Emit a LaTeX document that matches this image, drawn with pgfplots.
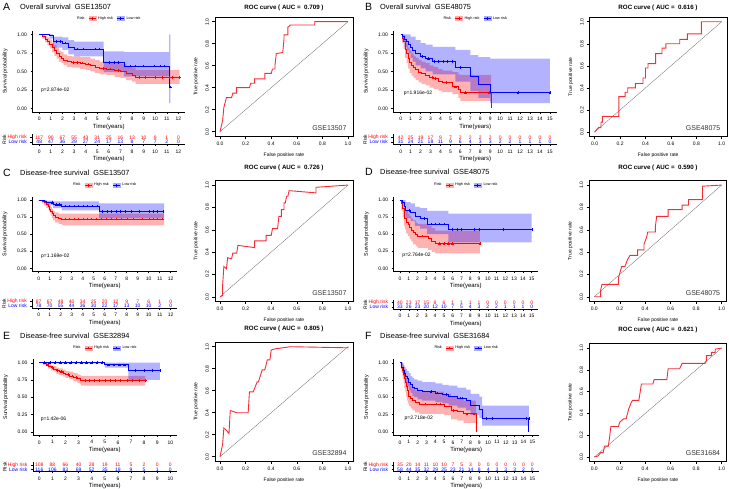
\documentclass[border=0pt]{standalone}
\usepackage{pgfplots}
\pgfplotsset{compat=1.18}
\usepackage{fontspec}
\setmainfont{Liberation Sans}
\newcommand\fs[1]{\fontsize{#1}{#1}\selectfont}
\definecolor{hi}{RGB}{255,0,0}
\definecolor{lo}{RGB}{0,0,255}
\definecolor{rocred}{RGB}{245,45,55}

\pgfplotsset{
  base/.style={scale only axis, anchor=south west,
    axis line style={black, line width=0.45pt},
    every tick/.style={black, line width=0.45pt},
    tick align=outside, major tick length=1.8pt,
    ticklabel style={font=\fs{5}},
    /pgf/number format/assume math mode=true},
  km/.style={base, axis x line*=bottom, axis y line*=left,
    ymin=-0.05, ymax=1.05, ytick={0,0.25,0.5,0.75,1},
    yticklabels={0.00,0.25,0.50,0.75,1.00}, xtick distance=1,
    xlabel={Time(years)}, ylabel={Survival probability},
    xlabel style={font=\fs{6}, yshift=4pt},
    ylabel style={font=\fs{5.3}, at={(axis description cs:0,0.5)}, anchor=center, yshift=27pt},
    legend style={draw=none, fill=none, font=\fs{3.8}, at={(0.5,1.15)},
      anchor=center, inner sep=0pt, /tikz/every even column/.append style={column sep=2pt}},
    legend columns=3},
  risk/.style={base, axis x line*=bottom, axis y line*=left,
    ymin=0.5, ymax=2.6, ytick={1,2}, xtick distance=1,
    yticklabels={{\color{lo}Low risk},{\color{hi}High risk}},
    xlabel={Time(years)}, ylabel={Risk},
    xlabel style={font=\fs{6}, yshift=4pt},
    ylabel style={font=\fs{5}, at={(axis description cs:0,0.5)}, anchor=center, yshift=28pt}},
  roc/.style={base, xmin=-0.04, xmax=1.04, ymin=-0.04, ymax=1.04,
    xtick={0,0.2,0.4,0.6,0.8,1}, ytick={0,0.2,0.4,0.6,0.8,1},
    xticklabels={0.0,0.2,0.4,0.6,0.8,1.0}, yticklabels={0.0,0.2,0.4,0.6,0.8,1.0},
    tick pos=left, major tick length=2.5pt,
    axis line style={black, line width=0.5pt},
    yticklabel style={rotate=90, anchor=south},
    xlabel={False positive rate}, ylabel={True positive rate},
    label style={font=\fs{5}}},
  hikey/.style={legend image code/.code={
    \fill[hi!32] (0pt,-2.2pt) rectangle (7pt,2.2pt);
    \draw[hi, line width=0.6pt] (0pt,0pt) -- (7pt,0pt) (3.5pt,-1.3pt) -- (3.5pt,1.3pt);}},
  lokey/.style={legend image code/.code={
    \fill[lo!32] (0pt,-2.2pt) rectangle (7pt,2.2pt);
    \draw[lo, line width=0.6pt] (0pt,0pt) -- (7pt,0pt) (3.5pt,-1.3pt) -- (3.5pt,1.3pt);}},
  band/.style={const plot, draw=none, fill=#1, fill opacity=0.3, forget plot},
  curve/.style={#1, const plot, line width=0.7pt, forget plot},
  cens/.style={#1, only marks, mark=+, mark size=1.3pt, forget plot},
  nums/.style={draw=none, forget plot, nodes near coords, point meta=explicit symbolic,
    nodes near coords style={anchor=center, font=\fs{5}, text=#1, inner sep=0pt}},
  roccurve/.style={rocred, line width=0.9pt},
  diag/.style={black!60, line width=0.3pt},
}
\tikzset{
  gse/.style={anchor=south east, font=\fs{7}, text=black!80, inner sep=0pt, xshift=-6.4pt, yshift=5.5pt},
  letter/.style={anchor=west, font=\fs{10.5}, inner sep=0pt},
  ttl/.style={anchor=west, font=\fs{7.4}, inner sep=0pt},
  roct/.style={anchor=center, font=\bfseries\fs{6.2}, inner sep=0pt},
  pv/.style={anchor=west, font=\fs{5}, inner sep=0pt}
}

\begin{document}
\begin{tikzpicture}
\useasboundingbox (0,0) rectangle (729pt,488pt);

% ---------- titles ----------
\node[letter] at (3pt,481pt) {A};
\node[ttl] at (20pt,481.5pt) {Overall survival\ \ GSE13507};
\node[letter] at (365pt,481pt) {B};
\node[ttl] at (380pt,481.5pt) {Overall survival\ \ GSE48075};
\node[letter] at (3pt,315pt) {C};
\node[ttl] at (20pt,315.5pt) {Disease-free survival\ \ GSE13507};
\node[letter] at (365pt,316pt) {D};
\node[ttl] at (380pt,316.5pt) {Disease-free survival\ \ GSE48075};
\node[letter] at (3pt,152pt) {E};
\node[ttl] at (20pt,152.5pt) {Disease-free survival\ \ GSE32894};
\node[letter] at (365pt,152pt) {F};
\node[ttl] at (380pt,152.5pt) {Disease-free survival\ \ GSE31684};
\node[roct] at (284pt,480pt) {ROC curve ( AUC =\ \ 0.709 )};
\node[roct] at (658pt,480pt) {ROC curve ( AUC =\ \ 0.616 )};
\node[roct] at (284pt,320pt) {ROC curve ( AUC =\ \ 0.726 )};
\node[roct] at (658pt,320pt) {ROC curve ( AUC =\ \ 0.590 )};
\node[roct] at (284pt,159pt) {ROC curve ( AUC =\ \ 0.805 )};
\node[roct] at (658pt,158pt) {ROC curve ( AUC =\ \ 0.621 )};

% ================= A =================
\begin{axis}[km, at={(32.3pt,376pt)}, width=153.1pt, height=81.4pt, xmin=-0.6, xmax=12.6]
\addlegendimage{empty legend}\addlegendentry{Risk}
\addlegendimage{hikey}\addlegendentry{High risk}
\addlegendimage{lokey}\addlegendentry{Low risk}
\addplot[band=hi] coordinates {(0,1)(0.3,1)(0.5,0.98)(0.7,0.96)(0.9,0.93)(1.1,0.89)(1.3,0.85)(1.5,0.82)(1.7,0.78)(1.9,0.76)(2.1,0.73)(2.4,0.71)(2.8,0.70)(3.5,0.69)(4.0,0.69)(4.4,0.67)(4.8,0.65)(5.2,0.63)(5.8,0.62)(6.5,0.61)(7.0,0.60)(7.5,0.57)(8.0,0.55)(8.3,0.52)(12.1,0.52)
 (12.1,0.33)(8.3,0.36)(8.0,0.38)(7.5,0.41)(7.0,0.42)(6.5,0.45)(5.8,0.46)(5.2,0.48)(4.8,0.50)(4.4,0.52)(4.0,0.53)(3.5,0.55)(2.8,0.56)(2.4,0.58)(2.1,0.61)(1.9,0.63)(1.7,0.67)(1.5,0.71)(1.3,0.76)(1.1,0.81)(0.9,0.85)(0.7,0.89)(0.5,0.94)(0.3,1)(0,1)} -- cycle;
\addplot[band=lo] coordinates {(0,1)(0.9,1)(1.2,0.97)(2.0,0.96)(2.5,0.92)(3.0,0.90)(5.55,0.77)(7.3,0.76)(11.2,1.0)(11.3,1.0)
 (11.3,0.07)(11.2,0.43)(7.3,0.49)(5.55,0.70)(3.0,0.73)(2.5,0.79)(2.0,0.82)(1.2,0.94)(0.9,1)(0,1)} -- cycle;
\addplot[curve=hi] coordinates {(0,1)(0.3,0.97)(0.5,0.93)(0.7,0.90)(0.9,0.87)(1.1,0.82)(1.3,0.78)(1.5,0.74)(1.7,0.70)(1.9,0.68)(2.1,0.65)(2.4,0.63)(2.8,0.62)(3.5,0.61)(4.0,0.60)(4.4,0.58)(4.8,0.56)(5.2,0.54)(5.8,0.53)(6.5,0.51)(7.0,0.50)(7.5,0.47)(8.0,0.45)(8.3,0.42)(12.1,0.42)};
\addplot[curve=lo] coordinates {(0,1)(0.9,0.98)(1.2,0.90)(2.0,0.88)(2.5,0.83)(3.0,0.80)(5.55,0.62)(7.3,0.57)(11.2,0.29)(11.3,0.29)};
\addplot[cens=hi] coordinates {(2.9,0.62)(3.3,0.62)(3.7,0.61)(4.2,0.60)(5.5,0.54)(6.1,0.53)(6.8,0.51)(8.6,0.42)(9.1,0.42)(10.0,0.42)(10.6,0.42)(11.2,0.42)(11.5,0.42)(12.1,0.42)};
\addplot[cens=lo] coordinates {(1.5,0.90)(1.8,0.90)(2.2,0.88)(3.3,0.80)(3.8,0.80)(4.8,0.80)(5.2,0.80)(6.0,0.62)(6.5,0.62)(6.8,0.62)(7.8,0.57)(8.3,0.57)(9.0,0.57)(9.9,0.57)(10.4,0.57)(10.8,0.57)(11.3,0.29)};
\node[pv] at (axis cs:0.15,0.25) {p=2.874e-02};
\end{axis}
\begin{axis}[risk, at={(32.3pt,343.6pt)}, width=153.1pt, height=9.9pt, xmin=-0.6, xmax=12.6]
\addplot[nums=hi] coordinates {(0,2)[117](1,2)[90](2,2)[67](3,2)[55](4,2)[43](5,2)[31](6,2)[25](7,2)[16](8,2)[13](9,2)[10](10,2)[9](11,2)[1](12,2)[0]};
\addplot[nums=lo] coordinates {(0,1)[48](1,1)[47](2,1)[36](3,1)[29](4,1)[27](5,1)[24](6,1)[17](7,1)[13](8,1)[8](9,1)[7](10,1)[7](11,1)[2](12,1)[0]};
\end{axis}
\begin{axis}[roc, at={(214.9pt,351.9pt)}, width=138.2pt, height=118.8pt]
\addplot[diag] coordinates {(0,0)(1,1)};
\addplot[roccurve] coordinates {(0,0)(0.01,0.05)(0.02,0.10)(0.03,0.22)(0.05,0.31)(0.09,0.31)(0.10,0.35)(0.13,0.35)(0.13,0.40)(0.23,0.40)(0.24,0.44)(0.27,0.44)(0.27,0.48)(0.35,0.48)(0.35,0.53)(0.40,0.53)(0.41,0.57)(0.43,0.57)(0.43,0.61)(0.44,0.71)(0.49,0.72)(0.50,0.84)(0.50,0.88)(0.53,0.88)(0.53,0.95)(0.55,0.97)(0.74,0.97)(0.74,1.0)(1,1)};
\node[gse] at (rel axis cs:1,0) {GSE13507};
\end{axis}

% ================= B =================
\begin{axis}[km, at={(393.2pt,376pt)}, width=164.2pt, height=81.4pt, xmin=-0.75, xmax=15.75]
\addlegendimage{empty legend}\addlegendentry{Risk}
\addlegendimage{hikey}\addlegendentry{High risk}
\addlegendimage{lokey}\addlegendentry{Low risk}
\addplot[band=hi] coordinates {(0,1)(0.15,1)(0.3,0.99)(0.45,0.93)(0.6,0.88)(0.75,0.82)(0.9,0.78)(1.1,0.74)(1.3,0.71)(1.5,0.68)(1.8,0.65)(2.1,0.63)(2.5,0.61)(2.9,0.58)(3.3,0.56)(3.8,0.53)(4.2,0.51)(5.2,0.49)(5.8,0.46)(6.0,0.45)(9.1,0.45)
 (9.1,0.10)(6.0,0.14)(5.8,0.19)(5.2,0.22)(4.2,0.24)(3.8,0.26)(3.3,0.28)(2.9,0.31)(2.5,0.33)(2.1,0.35)(1.8,0.38)(1.5,0.41)(1.3,0.44)(1.1,0.48)(0.9,0.54)(0.75,0.61)(0.6,0.68)(0.45,0.80)(0.3,0.88)(0.15,1)(0,1)} -- cycle;
\addplot[band=lo] coordinates {(0,1)(1.0,0.97)(1.5,0.92)(2.0,0.88)(2.5,0.86)(3.2,0.83)(5.5,0.79)(7.0,0.72)(7.8,0.69)(9.0,0.67)(15,0.67)
 (15,0.07)(9.0,0.14)(7.8,0.23)(7.0,0.36)(5.5,0.46)(3.2,0.50)(2.5,0.54)(2.0,0.58)(1.5,0.63)(1.2,0.68)(1.0,0.74)(0.8,0.78)(0.6,0.83)(0.4,0.90)(0.2,1)(0,1)} -- cycle;
\addplot[curve=hi] coordinates {(0,1)(0.15,0.95)(0.3,0.90)(0.45,0.80)(0.6,0.74)(0.75,0.67)(0.9,0.62)(1.1,0.58)(1.3,0.55)(1.5,0.52)(1.8,0.49)(2.1,0.47)(2.5,0.45)(2.9,0.42)(3.3,0.40)(3.8,0.37)(4.2,0.35)(5.2,0.29)(5.8,0.25)(6.0,0.21)(9.1,0.0)};
\addplot[curve=lo] coordinates {(0,1)(0.2,0.97)(0.4,0.93)(0.6,0.90)(0.8,0.87)(1.0,0.82)(1.2,0.78)(1.5,0.74)(2.0,0.70)(2.5,0.67)(3.2,0.63)(5.5,0.55)(7.0,0.43)(7.8,0.32)(9.0,0.21)(15,0.21)};
\addplot[cens=hi] coordinates {(3.2,0.42)(3.5,0.40)(4.6,0.35)(5.5,0.29)(6.5,0.21)(8.9,0.21)};
\addplot[cens=lo] coordinates {(2.2,0.70)(2.8,0.67)(3.4,0.63)(3.8,0.63)(4.3,0.63)(4.7,0.63)(5.2,0.63)(6.0,0.55)(11.8,0.21)(15,0.21)};
\node[pv] at (axis cs:0.3,0.2) {p=1.916e-02};
\end{axis}
\begin{axis}[risk, at={(393.2pt,343.6pt)}, width=164.2pt, height=9.9pt, xmin=-0.75, xmax=15.75]
\addplot[nums=hi] coordinates {(0,2)[42](1,2)[25](2,2)[19](3,2)[17](4,2)[9](5,2)[7](6,2)[2](7,2)[2](8,2)[2](9,2)[2](10,2)[0](11,2)[0](12,2)[0](13,2)[0](14,2)[0](15,2)[0]};
\addplot[nums=lo] coordinates {(0,1)[31](1,1)[24](2,1)[21](3,1)[18](4,1)[11](5,1)[9](6,1)[6](7,1)[4](8,1)[3](9,1)[3](10,1)[2](11,1)[2](12,1)[1](13,1)[1](14,1)[1](15,1)[0]};
\end{axis}
\begin{axis}[roc, at={(589.6pt,351.6pt)}, width=137.2pt, height=119.1pt]
\addplot[diag] coordinates {(0,0)(1,1)};
\addplot[roccurve] coordinates {(0,0)(0.03,0.04)(0.05,0.04)(0.05,0.09)(0.06,0.09)(0.06,0.14)(0.19,0.14)(0.19,0.32)(0.24,0.32)(0.24,0.36)(0.26,0.36)(0.26,0.40)(0.32,0.40)(0.32,0.44)(0.38,0.44)(0.38,0.49)(0.40,0.49)(0.40,0.58)(0.42,0.58)(0.42,0.62)(0.48,0.62)(0.48,0.71)(0.53,0.71)(0.53,0.76)(0.56,0.76)(0.56,0.80)(0.67,0.80)(0.67,0.84)(0.73,0.84)(0.73,0.89)(0.84,0.89)(0.84,1.0)(1,1)};
\node[gse] at (rel axis cs:1,0) {GSE48075};
\end{axis}

% ================= C =================
\begin{axis}[km, at={(32.1pt,216.3pt)}, width=145.2pt, height=75.1pt, xmin=-0.6, xmax=12.6]
\addlegendimage{empty legend}\addlegendentry{Risk}
\addlegendimage{hikey}\addlegendentry{High risk}
\addlegendimage{lokey}\addlegendentry{Low risk}
\addplot[band=hi] coordinates {(0,1)(0.3,1)(0.5,0.99)(0.7,0.97)(0.9,0.95)(1.0,0.92)(1.1,0.90)(1.2,0.87)(1.3,0.84)(1.5,0.82)(1.8,0.80)(2.1,0.80)(11.4,0.80)
 (11.4,0.63)(2.1,0.65)(1.8,0.67)(1.5,0.70)(1.3,0.74)(1.2,0.77)(1.1,0.81)(1.0,0.84)(0.9,0.88)(0.7,0.92)(0.5,0.95)(0.3,1)(0,1)} -- cycle;
\addplot[band=lo] coordinates {(0,1)(0.5,1)(0.7,0.99)(1.3,0.98)(2.1,0.98)(5.5,0.95)(11.4,0.95)
 (11.4,0.73)(5.5,0.85)(2.1,0.88)(1.3,0.92)(0.7,0.95)(0.5,1)(0,1)} -- cycle;
\addplot[curve=hi] coordinates {(0,1)(0.3,0.98)(0.5,0.96)(0.7,0.93)(0.9,0.90)(1.0,0.87)(1.1,0.84)(1.2,0.81)(1.3,0.78)(1.5,0.75)(1.8,0.73)(2.1,0.72)(11.4,0.72)};
\addplot[curve=lo] coordinates {(0,1)(0.5,0.98)(0.7,0.96)(1.3,0.93)(2.1,0.91)(5.5,0.83)(11.4,0.83)};
\addplot[cens=hi] coordinates {(2.4,0.72)(2.8,0.72)(3.2,0.72)(3.6,0.72)(4.0,0.72)(4.4,0.72)(4.8,0.72)(5.2,0.72)(5.7,0.72)(6.1,0.72)(6.6,0.72)(7.0,0.72)(7.5,0.72)(8.0,0.72)(8.6,0.72)(9.4,0.72)(10.0,0.72)(10.4,0.72)(10.8,0.72)(11.2,0.72)};
\addplot[cens=lo] coordinates {(1.2,0.96)(1.6,0.93)(1.9,0.93)(2.4,0.91)(2.8,0.91)(3.2,0.91)(3.6,0.91)(4.0,0.91)(4.4,0.91)(4.9,0.91)(5.3,0.91)(5.8,0.83)(6.2,0.83)(6.6,0.83)(7.0,0.83)(7.4,0.83)(7.9,0.83)(8.4,0.83)(9.1,0.83)(10.0,0.83)(10.4,0.83)(10.8,0.83)(11.3,0.83)};
\node[pv] at (axis cs:0.2,0.18) {p=1.169e-02};
\end{axis}
\begin{axis}[risk, at={(32.1pt,179.9pt)}, width=145.2pt, height=9pt, xmin=-0.6, xmax=12.6]
\addplot[nums=hi] coordinates {(0,2)[87](1,2)[67](2,2)[48](3,2)[40](4,2)[34](5,2)[25](6,2)[20](7,2)[12](8,2)[9](9,2)[7](10,2)[6](11,2)[1](12,2)[0]};
\addplot[nums=lo] coordinates {(0,1)[78](1,1)[70](2,1)[55](3,1)[44](4,1)[36](5,1)[30](6,1)[22](7,1)[17](8,1)[13](9,1)[10](10,1)[10](11,1)[2](12,1)[0]};
\end{axis}
\begin{axis}[roc, at={(214.9pt,186.8pt)}, width=138.2pt, height=120.6pt]
\addplot[diag] coordinates {(0,0)(1,1)};
\addplot[roccurve] coordinates {(0,0)(0.02,0.01)(0.02,0.10)(0.03,0.27)(0.05,0.25)(0.06,0.35)(0.09,0.34)(0.10,0.39)(0.13,0.39)(0.14,0.46)(0.27,0.44)(0.27,0.50)(0.36,0.50)(0.36,0.55)(0.40,0.55)(0.41,0.61)(0.45,0.61)(0.46,0.72)(0.48,0.72)(0.48,0.78)(0.50,0.78)(0.50,0.84)(0.51,0.84)(0.52,0.90)(0.53,0.90)(0.54,0.95)(0.75,0.93)(0.75,0.98)(1,1)};
\node[gse] at (rel axis cs:1,0) {GSE13507};
\end{axis}

% ================= D =================
\begin{axis}[km, at={(393.4pt,216.3pt)}, width=144.9pt, height=75.1pt, xmin=-0.75, xmax=15.75]
\addlegendimage{empty legend}\addlegendentry{Risk}
\addlegendimage{hikey}\addlegendentry{High risk}
\addlegendimage{lokey}\addlegendentry{Low risk}
\addplot[band=hi] coordinates {(0,1)(0.15,1)(0.3,0.98)(0.45,0.92)(0.55,0.88)(0.7,0.84)(0.9,0.80)(1.1,0.77)(1.3,0.73)(1.5,0.70)(1.8,0.67)(2.0,0.65)(3.2,0.62)(3.6,0.59)(4.0,0.55)(9.1,0.55)
 (9.1,0.22)(4.0,0.24)(3.6,0.27)(3.2,0.30)(2.0,0.32)(1.8,0.35)(1.5,0.39)(1.3,0.43)(1.1,0.47)(0.9,0.51)(0.7,0.57)(0.55,0.62)(0.45,0.75)(0.3,0.85)(0.15,1)(0,1)} -- cycle;
\addplot[band=lo] coordinates {(0,1)(0.65,0.97)(1.2,0.95)(1.7,0.90)(2.3,0.88)(3.1,0.84)(5.5,0.80)(15,0.80)
 (15,0.38)(5.5,0.50)(3.1,0.58)(2.3,0.62)(1.7,0.69)(1.2,0.73)(0.65,0.81)(0.5,0.91)(0.3,1)(0,1)} -- cycle;
\addplot[curve=hi] coordinates {(0,1)(0.15,0.95)(0.3,0.88)(0.45,0.78)(0.55,0.73)(0.7,0.68)(0.9,0.64)(1.1,0.60)(1.3,0.56)(1.5,0.52)(1.8,0.49)(2.0,0.47)(3.2,0.44)(3.6,0.40)(4.0,0.36)(9.1,0.36)};
\addplot[curve=lo] coordinates {(0,1)(0.3,0.97)(0.5,0.91)(0.65,0.85)(1.2,0.82)(1.7,0.76)(2.3,0.73)(3.1,0.65)(5.5,0.57)(15,0.57)};
\addplot[cens=hi] coordinates {(2.5,0.47)(4.5,0.36)(5.0,0.36)(5.5,0.36)(6.0,0.36)(9.1,0.36)};
\addplot[cens=lo] coordinates {(1.0,0.85)(2.7,0.73)(3.5,0.65)(4.0,0.65)(4.5,0.65)(5.0,0.65)(6.0,0.57)(6.5,0.57)(7.0,0.57)(8.5,0.57)(9.0,0.57)(11.8,0.57)(15,0.57)};
\node[pv] at (axis cs:0.26,0.19) {p=2.764e-02};
\end{axis}
\begin{axis}[risk, at={(393.4pt,178.9pt)}, width=144.9pt, height=9pt, xmin=-0.75, xmax=15.75]
\addplot[nums=hi] coordinates {(0,2)[40](1,2)[23](2,2)[17](3,2)[15](4,2)[8](5,2)[6](6,2)[1](7,2)[1](8,2)[1](9,2)[1](10,2)[0](11,2)[0](12,2)[0](13,2)[0](14,2)[0](15,2)[0]};
\addplot[nums=lo] coordinates {(0,1)[33](1,1)[26](2,1)[23](3,1)[20](4,1)[12](5,1)[10](6,1)[7](7,1)[5](8,1)[4](9,1)[3](10,1)[2](11,1)[2](12,1)[1](13,1)[1](14,1)[1](15,1)[0]};
\end{axis}
\begin{axis}[roc, at={(589.2pt,186.8pt)}, width=137.5pt, height=120.6pt]
\addplot[diag] coordinates {(0,0)(1,1)};
\addplot[roccurve] coordinates {(0,0)(0.03,0)(0.05,0)(0.05,0.06)(0.06,0.11)(0.19,0.11)(0.19,0.17)(0.20,0.21)(0.215,0.27)(0.24,0.27)(0.26,0.33)(0.28,0.37)(0.34,0.37)(0.34,0.42)(0.39,0.42)(0.39,0.47)(0.41,0.53)(0.42,0.58)(0.48,0.58)(0.48,0.63)(0.49,0.72)(0.58,0.72)(0.58,0.78)(0.69,0.78)(0.69,0.82)(0.74,0.82)(0.74,0.87)(0.85,0.87)(0.85,0.99)(1,1)};
\node[gse] at (rel axis cs:1,0) {GSE48075};
\end{axis}

% ================= E =================
\begin{axis}[km, at={(32.75pt,52.8pt)}, width=144.1pt, height=75.9pt, xmin=-0.5, xmax=10.5]
\addlegendimage{empty legend}\addlegendentry{Risk}
\addlegendimage{hikey}\addlegendentry{High risk}
\addlegendimage{lokey}\addlegendentry{Low risk}
\addplot[band=hi] coordinates {(0,1)(0.3,1)(0.5,0.99)(0.7,0.98)(0.9,0.96)(1.1,0.95)(1.3,0.93)(1.5,0.92)(1.8,0.90)(2.0,0.88)(2.3,0.87)(2.6,0.85)(2.9,0.83)(3.1,0.82)(3.2,0.81)(8.1,0.81)
 (8.1,0.67)(3.2,0.69)(3.1,0.71)(2.9,0.73)(2.6,0.76)(2.3,0.78)(2.0,0.80)(1.8,0.82)(1.5,0.84)(1.3,0.87)(1.1,0.89)(0.9,0.92)(0.7,0.95)(0.5,0.97)(0.3,1)(0,1)} -- cycle;
\addplot[band=lo] coordinates {(0,1)(9.2,1)
 (9.2,0.75)(6.8,0.93)(5.0,0.99)(0.5,1)(0,1)} -- cycle;
\addplot[curve=hi] coordinates {(0,1)(0.3,0.99)(0.5,0.97)(0.7,0.95)(0.9,0.93)(1.1,0.91)(1.3,0.89)(1.5,0.87)(1.8,0.85)(2.0,0.83)(2.3,0.81)(2.6,0.79)(2.9,0.77)(3.1,0.75)(3.2,0.74)(8.1,0.74)};
\addplot[curve=lo] coordinates {(0,1)(5.0,0.97)(6.8,0.89)(9.2,0.89)};
\addplot[cens=hi] coordinates {(0.6,0.97)(1.0,0.93)(1.4,0.89)(1.7,0.87)(2.2,0.83)(2.5,0.81)(2.8,0.79)(3.5,0.74)(3.8,0.74)(4.2,0.74)(4.6,0.74)(5.0,0.74)(5.4,0.74)(5.8,0.74)(6.2,0.74)(6.7,0.74)(7.1,0.74)(7.6,0.74)(8.1,0.74)};
\addplot[cens=lo] coordinates {(0.4,1)(0.8,1)(1.2,1)(1.6,1)(2.0,1)(2.4,1)(2.8,1)(3.2,1)(3.6,1)(4.0,1)(4.4,1)(4.8,1)(5.3,0.97)(5.7,0.97)(6.1,0.97)(6.5,0.97)(7.3,0.89)(8.0,0.89)(8.6,0.89)(9.2,0.89)};
\node[pv] at (axis cs:0.1,0.18) {p=1.42e-06};
\end{axis}
\begin{axis}[risk, at={(32.75pt,16.4pt)}, width=144.1pt, height=9.6pt, xmin=-0.5, xmax=10.5]
\addplot[nums=hi] coordinates {(0,2)[108](1,2)[88](2,2)[66](3,2)[40](4,2)[28](5,2)[19](6,2)[11](7,2)[5](8,2)[2](9,2)[0](10,2)[0]};
\addplot[nums=lo] coordinates {(0,1)[116](1,1)[106](2,1)[83](3,1)[69](4,1)[52](5,1)[35](6,1)[19](7,1)[9](8,1)[5](9,1)[1](10,1)[0]};
\end{axis}
\begin{axis}[roc, at={(214.9pt,26.9pt)}, width=138.2pt, height=118.8pt]
\addplot[diag] coordinates {(0,0)(1,1)};
\addplot[roccurve] coordinates {(0,0)(0.02,0.11)(0.03,0.26)(0.05,0.24)(0.07,0.21)(0.08,0.42)(0.13,0.40)(0.22,0.40)(0.23,0.59)(0.26,0.59)(0.29,0.68)(0.30,0.68)(0.33,0.79)(0.35,0.79)(0.37,0.88)(0.39,0.88)(0.40,0.97)(0.43,0.98)(0.55,1.0)(1,0.99)(1,1)};
\node[gse] at (rel axis cs:1,0) {GSE32894};
\end{axis}

% ================= F =================
\begin{axis}[km, at={(393.4pt,52.8pt)}, width=145.5pt, height=75.9pt, xmin=-0.75, xmax=15.75]
\addlegendimage{empty legend}\addlegendentry{Risk}
\addlegendimage{hikey}\addlegendentry{High risk}
\addlegendimage{lokey}\addlegendentry{Low risk}
\addplot[band=hi] coordinates {(0,1)(0.3,0.99)(0.4,0.95)(0.5,0.91)(0.6,0.86)(0.7,0.82)(0.8,0.77)(0.9,0.73)(1.0,0.70)(1.2,0.66)(1.4,0.63)(1.7,0.60)(2.2,0.58)(5.0,0.55)(5.8,0.50)(6.5,0.48)(7.2,0.45)(8.6,0.45)
 (8.6,0.13)(7.2,0.16)(6.5,0.18)(5.8,0.24)(5.0,0.26)(2.2,0.28)(1.7,0.31)(1.4,0.34)(1.2,0.37)(1.0,0.41)(0.9,0.45)(0.8,0.51)(0.7,0.57)(0.6,0.63)(0.5,0.70)(0.4,0.77)(0.3,0.85)(0.2,0.91)(0.1,1)(0,1)} -- cycle;
\addplot[band=lo] coordinates {(0,1)(0.35,0.97)(0.5,0.94)(0.65,0.91)(0.8,0.88)(1.0,0.85)(1.2,0.81)(1.4,0.78)(1.6,0.76)(2.0,0.74)(2.5,0.72)(4.0,0.70)(4.8,0.68)(5.5,0.67)(6.5,0.64)(7.5,0.61)(8.0,0.55)(9.0,0.51)(9.3,0.38)(14.6,0.38)
 (14.6,0.09)(9.3,0.20)(9.0,0.24)(8.0,0.31)(7.5,0.35)(6.5,0.38)(5.5,0.41)(4.8,0.43)(4.0,0.45)(2.5,0.47)(2.0,0.50)(1.6,0.52)(1.4,0.56)(1.2,0.60)(1.0,0.66)(0.8,0.71)(0.65,0.76)(0.5,0.81)(0.35,0.86)(0.2,0.92)(0.1,1)(0,1)} -- cycle;
\addplot[curve=hi] coordinates {(0,1)(0.1,0.97)(0.2,0.94)(0.3,0.89)(0.4,0.83)(0.5,0.77)(0.6,0.71)(0.7,0.66)(0.8,0.60)(0.9,0.56)(1.0,0.52)(1.2,0.48)(1.4,0.45)(1.7,0.42)(2.2,0.40)(5.0,0.37)(5.8,0.31)(6.5,0.29)(7.2,0.26)(8.6,0.0)};
\addplot[curve=lo] coordinates {(0,1)(0.1,0.97)(0.2,0.93)(0.35,0.89)(0.5,0.85)(0.65,0.81)(0.8,0.77)(1.0,0.72)(1.2,0.68)(1.4,0.65)(1.6,0.63)(2.0,0.60)(2.5,0.58)(4.0,0.56)(4.8,0.54)(5.5,0.52)(6.5,0.49)(7.5,0.45)(8.0,0.38)(9.0,0.33)(9.3,0.19)(14.6,0.0)};
\addplot[cens=hi] coordinates {(2.8,0.40)(4.1,0.40)(4.6,0.40)(6.0,0.31)(7.6,0.26)(8.4,0.26)};
\addplot[cens=lo] coordinates {(3.5,0.58)(4.2,0.56)(5.2,0.54)(6.8,0.49)(7.0,0.49)(9.8,0.19)(10.5,0.19)(14.3,0.19)(14.6,0.19)};
\node[pv] at (axis cs:0.5,0.19) {p=2.718e-02};
\end{axis}
\begin{axis}[risk, at={(393.4pt,16.4pt)}, width=145.5pt, height=9.6pt, xmin=-0.75, xmax=15.75]
\addplot[nums=hi] coordinates {(0,2)[35](1,2)[20](2,2)[14](3,2)[11](4,2)[10](5,2)[10](6,2)[7](7,2)[5](8,2)[3](9,2)[0](10,2)[0](11,2)[0](12,2)[0](13,2)[0](14,2)[0](15,2)[0]};
\addplot[nums=lo] coordinates {(0,1)[58](1,1)[44](2,1)[35](3,1)[32](4,1)[29](5,1)[25](6,1)[23](7,1)[21](8,1)[14](9,1)[8](10,1)[4](11,1)[3](12,1)[3](13,1)[3](14,1)[2](15,1)[0]};
\end{axis}
\begin{axis}[roc, at={(589.2pt,26.6pt)}, width=137.5pt, height=117.7pt]
\addplot[diag] coordinates {(0,0)(1,1)};
\addplot[roccurve] coordinates {(0,0)(0.03,0.01)(0.05,0.04)(0.07,0.04)(0.08,0.10)(0.11,0.10)(0.12,0.18)(0.13,0.28)(0.19,0.28)(0.20,0.32)(0.23,0.35)(0.25,0.35)(0.27,0.44)(0.29,0.50)(0.30,0.52)(0.35,0.52)(0.37,0.67)(0.46,0.67)(0.47,0.71)(0.57,0.71)(0.58,0.81)(0.67,0.81)(0.69,0.86)(0.87,0.86)(0.88,0.88)(0.88,0.93)(0.92,0.93)(0.92,0.96)(0.95,0.96)(0.95,0.99)(1,1)};
\node[gse] at (rel axis cs:1,0) {GSE31684};
\end{axis}
\end{tikzpicture}
\end{document}
